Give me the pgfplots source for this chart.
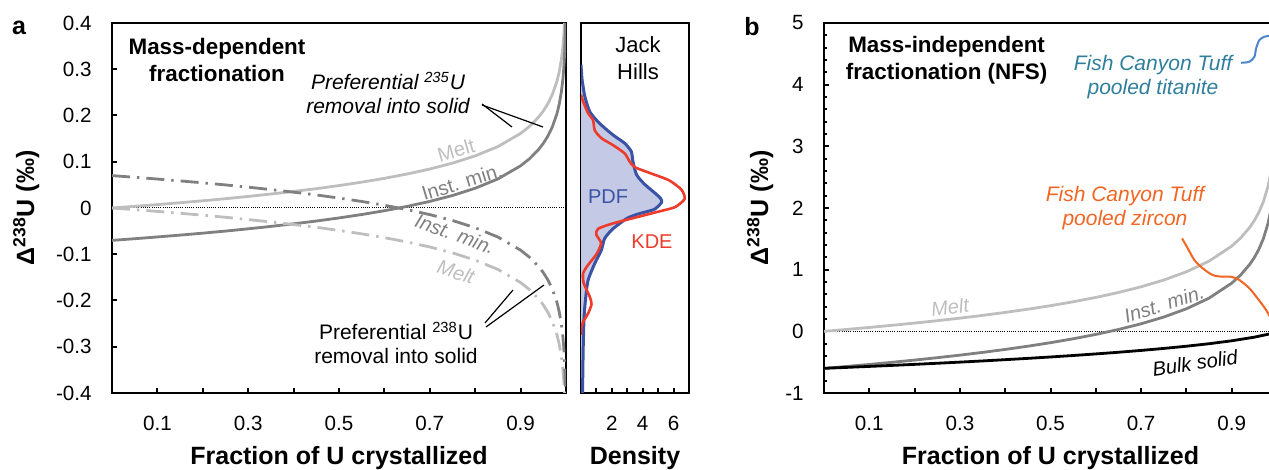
\documentclass[border=0pt]{standalone}
\usepackage{fontspec}
\setmainfont{Liberation Sans}
\usepackage{pgfplots}
\pgfplotsset{compat=1.18}
\definecolor{meltc}{HTML}{BEBEBE}
\definecolor{instc}{HTML}{808080}
\definecolor{pdfc}{HTML}{3A53A4}
\definecolor{pdffill}{HTML}{C4CAE6}
\definecolor{kdec}{HTML}{EE3B2B}
\definecolor{tealc}{HTML}{2F7E9C}
\definecolor{tealline}{HTML}{4A86C8}
\definecolor{orangec}{HTML}{F26522}
\newcommand{\tfont}{\fontsize{10.3}{12}\selectfont}
\newcommand{\afont}{\fontsize{10.5}{12}\selectfont}
\newcommand{\cfont}{\fontsize{10}{12}\selectfont}
\pgfplotsset{
  base/.style={
    scale only axis, anchor=south west,
    axis line style={line width=1.4pt},
    every tick/.style={black, line width=1pt},
    tick align=inside, major tick length=2.6pt, minor tick length=1.6pt,
    xtick pos=lower, ytick pos=left,
    ticklabel style={font=\tfont, inner sep=0pt},
    xticklabel style={anchor=center, yshift=-15pt},
    yticklabel style={anchor=east, xshift=-10pt},
    label style={font=\bfseries\fontsize{12.5}{14}\selectfont},
    xlabel style={at={(axis description cs:0.5,0)}, anchor=center, yshift=-32.5pt},
  },
  dd/.style={line width=1.4pt, dash pattern=on 9pt off 3.5pt on 1.2pt off 3.5pt},
  zl/.style={black, line width=0.5pt, dash pattern=on 0.5pt off 0.6pt},
}
\begin{document}
\begin{tikzpicture}
% ---------------- panel a ----------------
\begin{axis}[base, at={(56pt,38.5pt)}, width=227pt, height=185pt,
  xmin=0, xmax=1, ymin=-0.4, ymax=0.4,
  xtick={0.1,0.2,0.3,0.4,0.5,0.6,0.7,0.8,0.9},
  xticklabels={0.1,,0.3,,0.5,,0.7,,0.9},
  ytick={-0.4,-0.3,-0.2,-0.1,0,0.1,0.2,0.3,0.4},
  yticklabels={-0.4,-0.3,-0.2,-0.1,0,0.1,0.2,0.3,0.4},
  xlabel={Fraction of U crystallized},
  ylabel style={at={(axis description cs:-0.189,0.5)}, anchor=center},
  ylabel={Δ\textsuperscript{238}U (‰)},
]
\addplot[zl] coordinates {(0,0) (1,0)};
% melt (solid)
\addplot[meltc, line width=1.4pt] coordinates {(0,0) (0.05,0.0036) (0.1,0.0074) (0.15,0.0114) (0.2,0.0156) (0.25,0.0201) (0.3,0.0250) (0.35,0.0302) (0.4,0.0358) (0.45,0.0418) (0.5,0.0485) (0.55,0.0559) (0.6,0.0641) (0.65,0.0735) (0.7,0.0843) (0.75,0.0970) (0.8,0.1127) (0.85,0.1328) (0.9,0.1612) (0.92,0.1768) (0.94,0.1969) (0.95,0.2097) (0.96,0.2253) (0.97,0.2455) (0.98,0.2738) (0.985,0.2940) (0.99,0.3224) (0.993,0.3473) (0.995,0.3709) (0.996,0.3865) (0.9967,0.4)};
% inst. min (solid)
\addplot[instc, line width=1.4pt] coordinates {(0,-0.07) (0.05,-0.0664) (0.1,-0.0626) (0.15,-0.0586) (0.2,-0.0544) (0.25,-0.0499) (0.3,-0.0450) (0.35,-0.0398) (0.4,-0.0342) (0.45,-0.0282) (0.5,-0.0215) (0.55,-0.0141) (0.6,-0.0059) (0.65,0.0035) (0.7,0.0143) (0.75,0.0270) (0.8,0.0427) (0.85,0.0628) (0.9,0.0912) (0.92,0.1068) (0.94,0.1269) (0.95,0.1397) (0.96,0.1553) (0.97,0.1755) (0.98,0.2038) (0.985,0.2240) (0.99,0.2524) (0.993,0.2773) (0.995,0.3009) (0.996,0.3165) (0.997,0.3366) (0.998,0.3650) (0.9988,0.4)};
% melt (dash-dot)
\addplot[meltc, dd] coordinates {(0,0) (0.05,-0.0036) (0.1,-0.0074) (0.15,-0.0114) (0.2,-0.0156) (0.25,-0.0201) (0.3,-0.0250) (0.35,-0.0302) (0.4,-0.0358) (0.45,-0.0418) (0.5,-0.0485) (0.55,-0.0559) (0.6,-0.0641) (0.65,-0.0735) (0.7,-0.0843) (0.75,-0.0970) (0.8,-0.1127) (0.85,-0.1328) (0.9,-0.1612) (0.92,-0.1768) (0.94,-0.1969) (0.95,-0.2097) (0.96,-0.2253) (0.97,-0.2455) (0.98,-0.2738) (0.985,-0.2940) (0.99,-0.3224) (0.993,-0.3473) (0.995,-0.3709) (0.996,-0.3865) (0.9967,-0.4)};
% inst. min (dash-dot)
\addplot[instc, dd] coordinates {(0,0.07) (0.05,0.0664) (0.1,0.0626) (0.15,0.0586) (0.2,0.0544) (0.25,0.0499) (0.3,0.0450) (0.35,0.0398) (0.4,0.0342) (0.45,0.0282) (0.5,0.0215) (0.55,0.0141) (0.6,0.0059) (0.65,-0.0035) (0.7,-0.0143) (0.75,-0.0270) (0.8,-0.0427) (0.85,-0.0628) (0.9,-0.0912) (0.92,-0.1068) (0.94,-0.1269) (0.95,-0.1397) (0.96,-0.1553) (0.97,-0.1755) (0.98,-0.2038) (0.985,-0.2240) (0.99,-0.2524) (0.993,-0.2773) (0.995,-0.3009) (0.996,-0.3165) (0.997,-0.3366) (0.998,-0.3650) (0.9988,-0.4)};
\end{axis}
% ---------------- density panel ----------------
\begin{axis}[base, at={(290.5pt,38.5pt)}, width=54pt, height=185pt,
  xmin=0, xmax=7, ymin=-0.4, ymax=0.4,
  xtick={1,2,3,4,5,6}, xticklabels={,2,,4,,6},
  ytick=\empty,
  xlabel={Density},
]
\addplot[fill=pdffill, draw=none, smooth, tension=0.4] coordinates {(0,0.310) (0.06,0.280) (0.14,0.262) (0.25,0.241) (0.57,0.208) (1.20,0.183) (2.07,0.158) (2.83,0.140) (3.26,0.122) (3.37,0.100) (3.60,0.072) (4.10,0.052) (4.80,0.032) (5.15,0.021) (5.22,0.012) (4.75,-0.003) (3.80,-0.012) (3.00,-0.022) (2.07,-0.045) (1.53,-0.066) (1.32,-0.091) (0.89,-0.120) (0.46,-0.156) (0.31,-0.192) (0.20,-0.235) (0.14,-0.307) (0.10,-0.400) (0,-0.400)};
\addplot[pdfc, line width=1.5pt, smooth, tension=0.4] coordinates {(0,0.310) (0.06,0.280) (0.14,0.262) (0.25,0.241) (0.57,0.208) (1.20,0.183) (2.07,0.158) (2.83,0.140) (3.26,0.122) (3.37,0.100) (3.60,0.072) (4.10,0.052) (4.80,0.032) (5.15,0.021) (5.22,0.012) (4.75,-0.003) (3.80,-0.012) (3.00,-0.022) (2.07,-0.045) (1.53,-0.066) (1.32,-0.091) (0.89,-0.120) (0.46,-0.156) (0.31,-0.192) (0.20,-0.235) (0.14,-0.307) (0.10,-0.400)};
\addplot[kdec, line width=1.3pt, smooth, tension=0.4] coordinates {(0,0.245) (0.14,0.230) (0.46,0.205) (0.78,0.190) (0.89,0.168) (1.32,0.151) (2.07,0.136) (2.83,0.118) (3.16,0.100) (3.50,0.088) (4.60,0.074) (5.70,0.060) (6.50,0.040) (6.72,0.020) (6.10,0.002) (5.00,-0.008) (3.37,-0.022) (2.00,-0.034) (1.10,-0.045) (1.00,-0.058) (1.30,-0.076) (1.00,-0.100) (0.46,-0.123) (0.14,-0.141) (0.18,-0.163) (0.57,-0.192) (0.68,-0.208) (0.46,-0.228) (0.14,-0.246) (0.03,-0.258) (0,-0.275)};
\end{axis}
% ---------------- panel b ----------------
\begin{axis}[base, at={(412pt,38.5pt)}, width=226.5pt, height=185pt,
  xmin=0, xmax=1, ymin=-1, ymax=5,
  xtick={0.1,0.2,0.3,0.4,0.5,0.6,0.7,0.8,0.9,1},
  xticklabels={0.1,,0.3,,0.5,,0.7,,0.9,},
  ytick={-1,0,1,2,3,4,5}, yticklabels={-1,0,1,2,3,4,5},
  minor y tick num=4,
  xlabel={Fraction of U crystallized},
  ylabel={Δ\textsuperscript{238}U (‰)},
  ylabel style={at={(axis description cs:-0.141,0.5)}, anchor=center},
]
\addplot[zl] coordinates {(0,0) (1,0)};
\addplot[meltc, line width=1.4pt] coordinates {(0,0) (0.05,0.0308) (0.1,0.0632) (0.15,0.0975) (0.2,0.1339) (0.25,0.1726) (0.3,0.2140) (0.35,0.2585) (0.4,0.3065) (0.45,0.3587) (0.5,0.4159) (0.55,0.4791) (0.6,0.5498) (0.65,0.6299) (0.7,0.7224) (0.75,0.8318) (0.8,0.9657) (0.85,1.1383) (0.9,1.3816) (0.92,1.5154) (0.94,1.6880) (0.95,1.7974) (0.96,1.9313) (0.97,2.1040) (0.98,2.3472) (0.985,2.5198) (0.99,2.7631) (0.993,2.9771) (0.995,3.1790) (0.997,3.4855) (0.998,3.7288) (0.999,4.1447) (0.9995,4.5605) (0.99976,5)};
\addplot[instc, line width=1.4pt] coordinates {(0,-0.6) (0.05,-0.5692) (0.1,-0.5368) (0.15,-0.5025) (0.2,-0.4661) (0.25,-0.4274) (0.3,-0.3860) (0.35,-0.3415) (0.4,-0.2935) (0.45,-0.2413) (0.5,-0.1841) (0.55,-0.1209) (0.6,-0.0502) (0.65,0.0299) (0.7,0.1224) (0.75,0.2318) (0.8,0.3657) (0.85,0.5383) (0.9,0.7816) (0.92,0.9154) (0.94,1.0880) (0.95,1.1974) (0.96,1.3313) (0.97,1.5040) (0.98,1.7472) (0.985,1.9198) (0.99,2.1631) (0.993,2.3771) (0.995,2.5790) (0.997,2.8855) (0.998,3.1288) (0.999,3.5447) (0.9995,3.9605)};
\addplot[black, line width=1.4pt] coordinates {(0,-0.6) (0.05,-0.5847) (0.1,-0.5689) (0.15,-0.5526) (0.2,-0.5356) (0.25,-0.5178) (0.3,-0.4994) (0.35,-0.4800) (0.4,-0.4597) (0.45,-0.4384) (0.5,-0.4159) (0.55,-0.3920) (0.6,-0.3665) (0.65,-0.3392) (0.7,-0.3096) (0.75,-0.2773) (0.8,-0.2414) (0.85,-0.2009) (0.9,-0.1535) (0.95,-0.0946) (0.98,-0.0479) (0.99,-0.0279) (1,0)};
% leader curves to the pooled distributions
\addplot[orangec, line width=1pt, smooth] coordinates {(0.7905,1.508) (0.8029,1.346) (0.8177,1.156) (0.836,1.022) (0.858,0.913) (0.880,0.885) (0.8987,0.885) (0.917,0.832) (0.939,0.697) (0.957,0.535) (0.976,0.345) (0.994,0.10)};
\addplot[tealline, line width=1pt, smooth] coordinates {(0.9208,4.355) (0.9391,4.372) (0.9501,4.453) (0.9539,4.589) (0.9611,4.724) (0.9722,4.777) (0.9876,4.797)};
\end{axis}
% ---------------- text ----------------
\node[font=\bfseries\fontsize{12.5}{14}\selectfont] at (9.5pt,221pt) {a};
\node[font=\bfseries\fontsize{12.5}{14}\selectfont] at (376pt,221.5pt) {b};
\node[font=\bfseries\fontsize{11.2}{13.5}\selectfont, align=center] at (108.5pt,205pt) {Mass-dependent\\fractionation};
\node[font=\bfseries\fontsize{11.2}{13.5}\selectfont, align=center] at (473.3pt,205pt) {Mass-independent\\fractionation (NFS)};
\node[font=\afont\itshape, align=center] at (194pt,188.5pt) {Preferential \textsuperscript{235}U\\removal into solid};
\draw[line width=0.6pt] (241pt,183pt) -- (256pt,171.5pt);
\draw[line width=0.6pt] (241pt,182.5pt) -- (271.5pt,171.5pt);
\node[font=\afont, align=center] at (198pt,63.5pt) {Preferential \textsuperscript{238}U\\removal into solid};
\draw[line width=0.6pt] (242.5pt,73.5pt) -- (256.5pt,90pt);
\draw[line width=0.6pt] (243pt,71.5pt) -- (272pt,92.5pt);
\node[font=\cfont, text=meltc, rotate=16, inner sep=1pt] at (228pt,160pt) {Melt};
\node[font=\cfont, text=instc, rotate=17, inner sep=1pt] at (231pt,144pt) {Inst. min.};
\node[font=\cfont\itshape, text=instc, rotate=-20, inner sep=1pt] at (227.5pt,118pt) {Inst. min.};
\node[font=\cfont\itshape, text=meltc, rotate=-18, inner sep=1pt] at (228pt,99pt) {Melt};
\node[font=\fontsize{11}{13.5}\selectfont, align=center] at (319pt,206pt) {Jack\\Hills};
\node[font=\fontsize{10}{12}\selectfont, text=pdfc] at (304pt,136.5pt) {PDF};
\node[font=\fontsize{10}{12}\selectfont, text=kdec] at (326pt,114pt) {KDE};
\node[font=\afont\itshape, text=tealc, align=center] at (576.5pt,196.5pt) {Fish Canyon Tuff\\pooled titanite};
\node[font=\afont\itshape, text=orangec, align=center] at (562.5pt,131pt) {Fish Canyon Tuff\\pooled zircon};
\node[font=\cfont\itshape, text=meltc, rotate=7, inner sep=1pt] at (475pt,81.5pt) {Melt};
\node[font=\cfont\itshape, text=instc, rotate=18, inner sep=1pt] at (582pt,83pt) {Inst. min.};
\node[font=\cfont\itshape, rotate=8, inner sep=1pt] at (597.5pt,53.5pt) {Bulk solid};
\pgfresetboundingbox
\path[use as bounding box] (0pt,0pt) rectangle (634.5pt,235pt);
\end{tikzpicture}
\end{document}
